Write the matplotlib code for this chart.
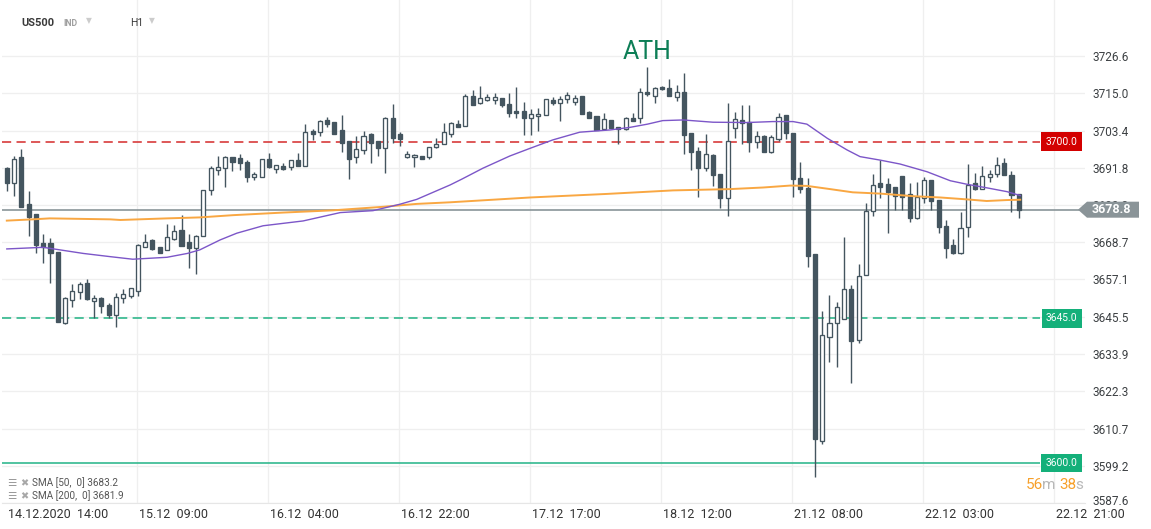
import numpy as np
import matplotlib
matplotlib.use("Agg")
import matplotlib.pyplot as plt
from matplotlib.patches import Polygon

plt.rcParams['font.family'] = ['Roboto', 'DejaVu Sans']

# hourly candles US500
opens = [3691.7, 3687.0, 3695.1, 3680.6, 3677.5, 3668.3, 3668.3, 3665.6, 3643.5, 3650.7,
         3653.1, 3655.9, 3650.5, 3651.2, 3649.1, 3646.2, 3651.2, 3652.1, 3653.5, 3667.3,
         3669.4, 3667.1, 3666.3, 3669.6, 3672.5, 3668.7, 3666.8, 3670.6, 3684.9, 3691.1,
         3691.7, 3695.1, 3694.8, 3693.5, 3689.1, 3689.1, 3694.5, 3691.6, 3692.4, 3692.0,
         3694.3, 3692.5, 3703.3, 3702.9, 3706.7, 3706.0, 3703.6, 3700.2, 3695.1, 3697.4,
         3702.3, 3700.2, 3697.9, 3707.2, 3702.3, 3695.3, 3695.1, 3695.5, 3695.3, 3698.2,
         3699.2, 3702.3, 3705.4, 3704.9, 3714.2, 3711.9, 3713.0, 3713.0, 3713.4, 3711.7,
         3709.5, 3709.5, 3707.2, 3707.9, 3708.2, 3712.9, 3712.1, 3713.1, 3712.4, 3714.0,
         3709.3, 3707.9, 3703.8, 3706.7, 3704.4, 3703.9, 3707.2, 3707.2, 3715.3, 3714.3,
         3716.9, 3716.6, 3713.8, 3715.3, 3702.7, 3697.1, 3691.7, 3695.8, 3689.8, 3682.3,
         3704.1, 3706.7, 3706.0, 3699.9, 3701.8, 3696.8, 3700.7, 3708.2, 3702.6, 3688.6,
         3685.4, 3665.0, 3607.0, 3639.3, 3643.5, 3644.8, 3654.0, 3638.3, 3658.5, 3678.4,
         3687.0, 3686.8, 3685.8, 3689.3, 3683.7, 3676.1, 3682.3, 3688.0, 3681.8, 3673.7,
         3667.8, 3665.2, 3673.3, 3687.0, 3685.2, 3688.9, 3689.8, 3693.2, 3689.6, 3683.7]
highs = [3692.2, 3695.5, 3697.7, 3684.6, 3677.6, 3671.2, 3670.1, 3665.7, 3651.5, 3655.7,
         3656.4, 3657.1, 3652.3, 3651.5, 3649.9, 3652.8, 3654.0, 3654.5, 3668.0, 3671.2,
         3669.6, 3667.2, 3674.3, 3674.0, 3677.1, 3671.1, 3670.8, 3685.0, 3692.4, 3695.5,
         3695.4, 3695.2, 3696.0, 3694.3, 3690.4, 3694.6, 3696.3, 3692.7, 3693.2, 3694.4,
         3696.3, 3705.4, 3703.8, 3706.6, 3707.7, 3706.1, 3708.2, 3700.3, 3701.7, 3703.4,
         3702.7, 3700.3, 3707.5, 3711.7, 3703.1, 3697.1, 3696.0, 3695.6, 3698.3, 3701.0,
         3705.7, 3706.2, 3706.7, 3714.7, 3716.0, 3717.3, 3714.8, 3715.0, 3713.5, 3715.0,
         3717.1, 3712.2, 3710.0, 3710.3, 3713.2, 3713.8, 3714.0, 3715.5, 3714.5, 3714.1,
         3709.4, 3708.0, 3709.0, 3706.8, 3704.6, 3707.5, 3709.0, 3716.6, 3723.1, 3717.1,
         3717.2, 3719.4, 3717.6, 3721.2, 3702.8, 3698.4, 3702.3, 3696.0, 3690.0, 3711.9,
         3709.3, 3711.4, 3711.4, 3703.3, 3701.9, 3702.0, 3709.0, 3708.3, 3702.7, 3693.7,
         3688.6, 3665.1, 3647.4, 3652.3, 3650.2, 3670.4, 3655.4, 3661.9, 3680.8, 3689.9,
         3694.3, 3688.6, 3686.0, 3689.4, 3687.2, 3687.5, 3688.9, 3688.1, 3681.9, 3675.6,
         3669.7, 3678.0, 3693.0, 3690.1, 3692.4, 3691.1, 3695.1, 3694.8, 3690.9, 3683.8]
lows = [3684.6, 3683.1, 3679.6, 3670.6, 3665.4, 3662.3, 3656.1, 3643.8, 3643.3, 3648.6,
        3650.9, 3650.8, 3645.0, 3646.6, 3645.0, 3642.4, 3649.7, 3651.2, 3652.1, 3667.2,
        3666.3, 3665.2, 3666.2, 3669.5, 3667.5, 3660.6, 3658.8, 3670.5, 3683.4, 3689.6,
        3685.9, 3690.9, 3691.1, 3687.3, 3688.0, 3689.0, 3691.9, 3690.1, 3691.1, 3691.1,
        3692.4, 3692.4, 3700.5, 3701.7, 3704.6, 3702.2, 3696.8, 3688.2, 3693.2, 3696.1,
        3693.4, 3695.5, 3690.3, 3699.4, 3698.7, 3695.0, 3692.2, 3694.5, 3694.6, 3697.9,
        3699.1, 3701.3, 3704.5, 3704.8, 3711.3, 3711.6, 3712.7, 3711.7, 3710.6, 3707.5,
        3707.2, 3702.0, 3702.0, 3703.4, 3708.1, 3711.4, 3706.5, 3711.9, 3711.4, 3708.4,
        3707.3, 3703.5, 3703.6, 3704.2, 3699.2, 3703.7, 3706.4, 3705.7, 3714.0, 3712.1,
        3716.0, 3714.0, 3712.7, 3696.1, 3691.1, 3682.8, 3690.9, 3686.2, 3679.4, 3676.9,
        3701.2, 3699.2, 3696.8, 3698.1, 3696.7, 3696.5, 3700.2, 3700.7, 3682.6, 3683.9,
        3660.9, 3595.8, 3605.9, 3631.5, 3630.0, 3644.7, 3624.8, 3637.2, 3658.4, 3676.8,
        3682.3, 3671.6, 3678.7, 3678.7, 3675.1, 3676.0, 3681.0, 3678.7, 3671.6, 3663.9,
        3665.1, 3665.1, 3670.2, 3685.0, 3685.1, 3687.5, 3688.9, 3689.5, 3678.0, 3676.1]
closes = [3687.0, 3694.5, 3679.7, 3676.6, 3667.8, 3667.3, 3665.4, 3643.9, 3651.3, 3653.4,
          3655.7, 3650.9, 3651.2, 3648.9, 3646.0, 3651.5, 3652.5, 3654.3, 3667.8, 3668.9,
          3666.5, 3665.4, 3670.2, 3672.2, 3667.6, 3666.8, 3670.7, 3684.9, 3691.7, 3692.0,
          3695.3, 3693.7, 3693.2, 3689.1, 3689.8, 3694.5, 3692.0, 3692.6, 3691.6, 3694.3,
          3692.5, 3702.9, 3702.3, 3706.5, 3705.4, 3702.3, 3699.6, 3694.6, 3697.6, 3701.8,
          3699.4, 3697.9, 3707.2, 3701.2, 3700.8, 3696.0, 3695.7, 3694.6, 3698.2, 3699.1,
          3702.9, 3705.7, 3704.6, 3714.2, 3711.4, 3713.4, 3713.8, 3713.8, 3711.4, 3708.8,
          3708.8, 3707.2, 3708.5, 3708.6, 3713.1, 3712.1, 3713.1, 3714.5, 3713.4, 3708.5,
          3707.4, 3703.6, 3707.1, 3704.3, 3703.9, 3707.2, 3706.5, 3715.3, 3714.7, 3716.6,
          3716.2, 3714.3, 3715.3, 3702.0, 3696.8, 3691.7, 3696.1, 3689.6, 3682.3, 3700.3,
          3707.0, 3705.7, 3699.8, 3701.8, 3696.8, 3701.3, 3707.7, 3702.6, 3688.2, 3685.1,
          3664.5, 3607.4, 3639.8, 3643.5, 3648.6, 3654.0, 3638.0, 3658.3, 3678.4, 3686.5,
          3686.0, 3684.4, 3683.0, 3682.8, 3676.3, 3682.7, 3688.0, 3681.5, 3673.5, 3667.0,
          3665.2, 3673.0, 3686.5, 3685.1, 3689.4, 3689.9, 3692.7, 3689.6, 3683.4, 3678.8]

# moving averages read at selected bars
sma50_bar = [0, 5.0, 10.5, 14.2, 17.3, 22.0, 24.8, 26.5, 29.3, 31.6, 35.2, 40.7, 45.8, 50.3,
             54.0, 56.3, 60.9, 62.5, 65.4, 69.1, 71.9, 75.0, 78.7, 82.9, 85.6, 88.0, 90.1,
             92.9, 97.0, 101.7, 105.2, 108.0, 109.9, 112.7, 115.4, 117.2, 120.0, 122.7,
             126.4, 129.6, 131.9, 134.6, 137.4, 139.2]
sma50_val = [3666.6, 3667.1, 3665.2, 3664.2, 3663.4, 3664.0, 3665.2, 3666.3, 3669.4, 3671.5,
             3673.8, 3675.3, 3677.9, 3678.5, 3680.5, 3682.0, 3686.5, 3688.3, 3691.7, 3695.5,
             3697.9, 3700.5, 3702.9, 3703.6, 3704.4, 3705.4, 3706.5, 3706.7, 3706.0, 3705.9,
             3706.2, 3706.2, 3705.4, 3701.0, 3697.4, 3695.3, 3694.2, 3693.0, 3690.6, 3687.8,
             3686.7, 3685.6, 3684.4, 3683.2]
sma200_bar = [0, 3.6, 5.9, 14.2, 15.6, 22.0, 26.5, 31.1, 37.9, 44.8, 51.7, 56.3, 60.9, 71.9,
              82.4, 91.5, 99.3, 103.9, 107.6, 109.9, 113.1, 116.2, 120.0, 124.5, 128.2,
              131.9, 134.6, 137.4, 139.2]
sma200_val = [3675.4, 3675.8, 3676.1, 3675.8, 3675.6, 3676.1, 3676.4, 3677.1, 3677.9, 3678.6,
              3679.7, 3680.6, 3681.1, 3682.6, 3683.7, 3684.8, 3685.2, 3685.7, 3686.3, 3686.2,
              3685.2, 3684.2, 3683.8, 3683.0, 3682.6, 3682.0, 3681.5, 3681.8, 3681.9]

y_ticks = [3587.6, 3599.2, 3610.7, 3622.3, 3633.9, 3645.5, 3657.1, 3668.7, 3680.3,
           3691.8, 3703.4, 3715.0, 3726.6]
x_labels = ["14.12.2020  14:00", "15.12  09:00", "16.12  04:00", "16.12  22:00",
            "17.12  17:00", "18.12  12:00", "21.12  08:00", "22.12  03:00", "22.12  21:00"]
resistance = 3700.0
support = 3645.0
level_low = 3600.0
last_price = 3678.8

W, H = 1151, 529
fig = plt.figure(figsize=(W / 100, H / 100), dpi=100)
ax = fig.add_axes([2 / W, 1 - 503 / H, 1083 / W, 503 / H])
ax.set_xlim(-0.66, 148.1)
ax.set_ylim(3587.6, 3744.0)

dark = '#44555f'
o = np.array(opens)
c = np.array(closes)
x = np.arange(len(o))
up = c >= o
body_lo = np.minimum(o, c)
body_h = np.maximum(np.abs(c - o), 0.25)

ax.vlines(x, lows, highs, color=dark, lw=1.0, zorder=3)
ax.bar(x[up], body_h[up], bottom=body_lo[up], width=0.56, color='white',
       edgecolor=dark, linewidth=0.95, zorder=4)
ax.bar(x[~up], body_h[~up], bottom=body_lo[~up], width=0.56, color=dark,
       edgecolor=dark, linewidth=0.95, zorder=4)

ax.plot(sma200_bar, sma200_val, color='#f9a742', lw=1.4, zorder=5)
ax.plot(sma50_bar, sma50_val, color='#7c56c8', lw=1.0, zorder=5)

# levels
x_end = (1040 - 6.8) / 7.28
ax.hlines(resistance, -0.66, x_end, color='#d42a2a', lw=1.1, ls=(0, (6, 3.5)), zorder=2)
ax.hlines(support, -0.66, x_end, color='#1fb283', lw=1.1, ls=(0, (6, 3.5)), zorder=2)
ax.hlines(level_low, -0.66, x_end, color='#22b386', lw=1.1, zorder=2)
ax.hlines(last_price, -0.66, 148.1, color='#7f8c90', lw=1.1, zorder=2)

# grid
for t in y_ticks:
    ax.axhline(t, color='#efefef', lw=0.9, zorder=0)
for k in range(1, 9):
    ax.axvline(17.9 + 18 * (k - 1), color='#efefef', lw=0.9, zorder=0)

for s in ['left', 'right', 'top']:
    ax.spines[s].set_visible(False)
ax.spines['bottom'].set_color('#e6e6e6')
ax.set_xticks([])
ax.set_yticks([])

# price scale labels (the lowest one sits a little above the frame edge)
for t in y_ticks:
    yy = t + 1.0 if t == y_ticks[0] else t
    ax.text((1092 - 6.8) / 7.28, yy, f"{t:.1f}", ha='left', va='center_baseline',
            fontsize=8.5, color='#3c4043', clip_on=False, zorder=1)

for k, lab in enumerate(x_labels):
    xp = 18 * k - 0.1
    fig.text((6.8 + 7.28 * xp + 2) / W, 1 - 514 / H, lab, ha='left', va='center',
             fontsize=9, color='#333333')

# price boxes
def box(val, txt, fc):
    ax.text(144.9, val, txt, ha='center', va='center', fontsize=7.4, color='white',
            bbox=dict(boxstyle='square,pad=0.42', fc=fc, ec='none'), zorder=6, clip_on=False)

box(resistance, "3700.0", '#d30000')
box(support, "3645.0", '#14b07a')
box(level_low, "3600.0", '#14b07a')

# last price tag
fig.canvas.draw()
yd = ax.transData.transform((0, last_price))[1]
yf = yd / H
inv = lambda px: px / W
hh = 8 / H
tag = Polygon([(inv(1078), yf), (inv(1087), yf + hh), (inv(1139), yf + hh),
               (inv(1139), yf - hh), (inv(1087), yf - hh)], closed=True,
              transform=fig.transFigure, fc='#8a9498', ec='none', zorder=10)
fig.add_artist(tag)
fig.text(inv(1092), yf, "3678.8", ha='left', va='center', fontsize=9, color='white',
         fontweight='bold', zorder=11)

# annotation
ax.text((647 - 6.8) / 7.28, 3726.6 + 4 / 3.215, "ATH", ha='center', va='center',
        fontsize=18, color='#0d7e56', zorder=6)

# header
fig.text(21 / W, 1 - 23 / H, "US500", fontsize=8, fontweight='bold', color='#3a3a3a', va='center')
fig.text(63 / W, 1 - 23 / H, "IND", fontsize=6.3, fontweight='bold', color='#a0a0a0', va='center')
fig.text(86 / W, 1 - 21 / H, "\u25bc", fontsize=5.5, color='#cccccc', va='center')
fig.text(130 / W, 1 - 23 / H, "H1", fontsize=7.5, color='#3a3a3a', va='center')
fig.text(149 / W, 1 - 21 / H, "\u25bc", fontsize=5.5, color='#cccccc', va='center')

# legend
for yy, txt in [(483, "SMA [50,  0] 3683.2"), (496, "SMA [200,  0] 3681.9")]:
    fig.text(7 / W, 1 - yy / H, "\u2630", fontsize=7.5, color='#9a9a9a', va='center')
    fig.text(20 / W, 1 - yy / H, "\u2716", fontsize=7, color='#a8a8a8', va='center')
    fig.text(32 / W, 1 - yy / H, txt, fontsize=7.2, color='#555555', va='center')

# countdown
fig.text(1026 / W, 1 - 485 / H, "56", fontsize=11, color='#f7a02a', va='center')
fig.text(1042 / W, 1 - 485 / H, "m", fontsize=11, color='#b8b8b8', va='center')
fig.text(1059 / W, 1 - 485 / H, "38", fontsize=11, color='#f7a02a', va='center')
fig.text(1075 / W, 1 - 485 / H, "s", fontsize=11, color='#b8b8b8', va='center')

fig.savefig("out.png", dpi=100)
